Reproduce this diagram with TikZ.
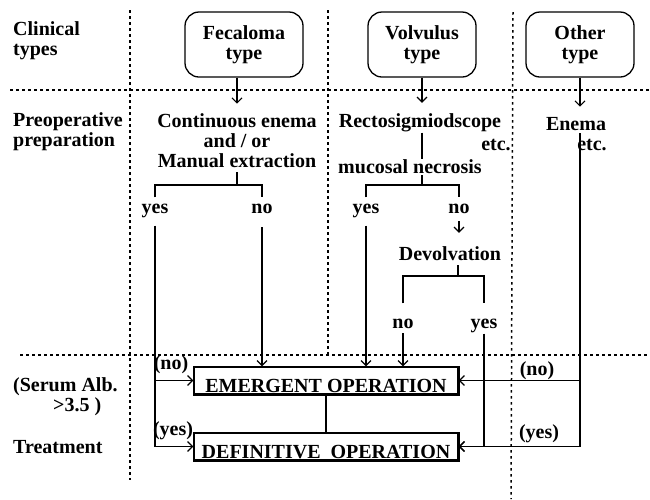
\documentclass[tikz,border=0pt]{standalone}
\usepackage{fontspec}
\setmainfont{Liberation Serif}
\usetikzlibrary{arrows.meta,calc,positioning}

\begin{document}
\begin{tikzpicture}[x=1pt,y=-1pt,every node/.style={font=\fontsize{20}{20}\selectfont\bfseries,inner sep=0pt},typebox/.style={draw,line width=1.3pt,rounded corners=14pt,minimum width=108pt,minimum height=65pt,align=center},opbox/.style={draw,line width=1.2pt,minimum width=264pt,text height=25pt,text depth=2pt},divider/.style={line width=1.5pt,dash pattern=on 2.5pt off 3.5pt},wire/.style={line width=1.2pt},tip/.style={line width=1.2pt,-{Straight Barb[length=5pt,width=10pt]}}]
\useasboundingbox (0,0) rectangle (650,499);
\fill[white] (0,0) rectangle (650,499);

% dotted grid
\draw[divider] (10,90) -- (650,90); \draw[divider] (20,355) -- (650,355);
\draw[divider] (130,10) -- (130,480); \draw[divider] (328,10) -- (328,355); \draw[divider] (513,12) -- (511,499);

% row labels
\node[anchor=west,align=left] (clin) at (13,41) {Clinical\\types};
\node[anchor=west,align=left] (prep) at (13,132) {Preoperative\\preparation};
\node[anchor=west,align=left] (serum) at (13,397) {(Serum Alb.\\\hspace*{40pt}>3.5 )};
\node[anchor=base west] (treat) at (13,453) {Treatment};

% clinical types
\node[typebox,minimum width=118pt] (fec) at (244,44.5) {Fecaloma\\type};
\node[typebox] (vol) at (422,44.5) {Volvulus\\type};
\node[typebox] (oth) at (580,44.5) {Other\\type};

% preparation
\node[align=center] (cont) at (237,141) {Continuous enema\\and / or\hspace*{30pt}\\Manual extraction};
\node[anchor=base] (recto) at (420,127) {Rectosigmiodscope}; \node[anchor=base] (vetc) at (496,150) {etc.};
\node[anchor=base] (muc) at (410,173) {mucosal necrosis};
\node[anchor=base] (enema) at (576,130) {Enema}; \node[anchor=base] (oetc) at (592,150) {etc.};

% answers
\node[anchor=base] (fyes) at (155,213) {yes}; \node[anchor=base] (fno) at (262,213) {no};
\node[anchor=base] (vyes) at (366,213) {yes}; \node[anchor=base] (vno) at (459,213) {no};
\node[anchor=base] (devol) at (450,260) {Devolvation};
\node[anchor=base] (dno) at (403,328) {no}; \node[anchor=base] (dyes) at (484,328) {yes};
\node[anchor=base] (fnolab) at (171,369) {(no)}; \node[anchor=base] (fyeslab) at (173,435) {(yes)};
\node[anchor=base] (onolab) at (537,375) {(no)}; \node[anchor=base] (oyeslab) at (539,438) {(yes)};

% operations
\node[opbox] (em) at (326,380.5) {EMERGENT OPERATION};
\node[opbox] (def) at (326,446.5) {DEFINITIVE\ \ OPERATION};
\draw[line width=2.2pt] (em.south west) -- (em.south east) -- (em.north east);
\draw[line width=2.2pt] (def.south west) -- (def.south east) -- (def.north east);

\coordinate (fbr) at (237,185); \coordinate (vbr) at (422,185); \coordinate (dbr) at (458,276);

% fecaloma
\draw[tip,shorten >=10pt] (fec.south -| cont.north) -- (cont.north);
\draw[wire,shorten <=4pt] (cont.south -| fbr) -- (fbr);
\draw[wire,shorten <=6pt,shorten >=6pt] (fyes.north) |- (fbr) -| (fno.north);
\draw[tip,shorten <=8pt] (fyes.south) |- (def.west); \draw[tip] (fyes.south |- em.west) -- (em.west);
\draw[tip,shorten <=14pt] (fno.south) -- (fno.south |- em.north);

% volvulus
\draw[tip,shorten >=10pt] (vol.south) -- (vol.south |- recto.north);
\draw[wire,shorten <=1pt] (vol.south |- recto.south) -- (vol.south |- muc.north);
\draw[wire,shorten <=2pt] (vol.south |- muc.south) -- (vbr);
\draw[wire,shorten <=6pt,shorten >=6pt] (vyes.north) |- (vbr) -| (vno.north);
\draw[tip,shorten <=8pt] (vyes.south) -- (vyes.south |- em.north);
\draw[tip,shorten <=8pt,shorten >=13pt] (vno.south) -- (vno.south |- devol.north);
\draw[wire,shorten <=5pt] (devol.south -| dbr) -- (dbr);
\draw[wire,shorten <=15pt,shorten >=15pt] (dno.north) |- (dbr) -| (dyes.north);
\draw[tip,shorten <=5pt] (dno.south) -- (dno.south |- em.north);
\draw[tip,shorten <=1pt] (dyes.south) |- (def.east);

% other
\draw[tip,shorten >=10pt] (oth.south) -- (oth.south |- enema.north);
\draw[tip,shorten <=3pt] (oth.south |- enema.south) |- (def.east);
\draw[tip] (oth.south |- em.east) -- (em.east);
\draw[wire] (em.south) -- (def.north);

\end{tikzpicture}
\end{document}
